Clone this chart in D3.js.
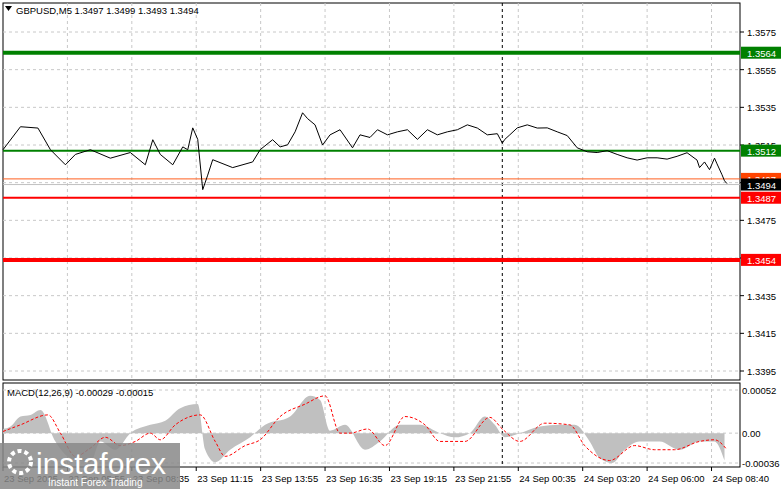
<!DOCTYPE html><html><head><meta charset="utf-8"><script src="https://cdn.jsdelivr.net/npm/d3@7"></script>
<style>body{margin:0;background:#fff}text{font-family:"Liberation Sans",Arial,sans-serif}</style></head><body><svg id="c" width="781" height="489"></svg>
<script>
const barIdx=[0,7,14,19,25,29,35,43,51,57,60,63,68,72,74,76,78,80,82,84,92,100,103,108,111,114,117,120,122,125,128,131,135,140,143,147,150,154,158,162,166,170,174,178,182,186,190,194,198,200,201,203,206,210,214,218,222,226,230,234,238,242,246,250,254,258,262,266,270,274,278,279,281,283,285,286,288,289,290];
const price=[1.35125,1.35247,1.35240,1.35125,1.35045,1.35100,1.35125,1.35080,1.35110,1.35045,1.35178,1.35100,1.35045,1.35140,1.35125,1.35241,1.35180,1.34913,1.34990,1.35072,1.35030,1.35060,1.35125,1.35178,1.35140,1.35151,1.35220,1.35321,1.35290,1.35257,1.35150,1.35204,1.35231,1.35135,1.35204,1.35190,1.35231,1.35204,1.35220,1.35231,1.35180,1.35231,1.35204,1.35220,1.35231,1.35257,1.35240,1.35204,1.35210,1.35160,1.35180,1.35204,1.35241,1.35257,1.35240,1.35241,1.35220,1.35200,1.35135,1.35114,1.35110,1.35120,1.35100,1.35082,1.35070,1.35082,1.35082,1.35075,1.35090,1.35109,1.35070,1.35030,1.35060,1.35019,1.35080,1.35050,1.34992,1.34960,1.34945];
const histIdx=[0,3,7,11,15,21,27,35,39,45,51,59,65,71,78,81,85,91,99,105,115,123,127,131,137,145,151,159,167,175,181,187,193,197,201,207,215,223,229,235,239,244,249,255,263,271,279,285,289];
const hist=[0.00005,0.00008,0.0002,0.00022,0.00028,-0.0001,-0.0003,-0.00035,-0.0001,-0.0002,0,0.0001,0.00015,0.0003,0.00035,-0.0002,-0.00035,-0.0002,-0.00005,0.0001,0.0002,0.00045,0.0004,0.00003,0.0001,-0.0002,-0.0001,0.0001,0.0001,0,-0.00005,0,0.0002,0.0001,-0.00005,0,0.00008,0.0001,0.0001,-0.0001,-0.0003,-0.00036,-0.0002,-0.0001,-0.0001,-0.0002,-0.0001,-0.0001,-0.00033];
const sigIdx=[0,7,18,23,29,35,41,47,53,59,63,69,79,85,89,97,103,111,121,129,135,139,146,153,161,169,175,185,195,200,207,217,227,233,243,253,261,269,279,285,290];
const signal=[0.00002,0.0001,0.00022,0.0,-0.00028,-0.00018,-0.00005,-0.00015,-0.0001,0,-0.00008,0.0001,0.00022,-0.0001,-0.00028,-0.00015,-0.00008,0.0002,0.00035,0.00045,0.0,0.0,0.00005,-0.00015,0.0002,0.0001,-0.0001,-0.0001,0.00019,0.00005,-0.0001,0.00012,0.0001,-0.00015,-0.00033,-0.00015,-0.0002,-0.0002,-0.0001,-0.00008,-0.0002];
const priceTicks=[1.3575,1.3555,1.3535,1.3515,1.3495,1.3475,1.3455,1.3435,1.3415,1.3395];
const timeLabels=["23 Sep 2025","23 Sep 05:55","23 Sep 08:35","23 Sep 11:15","23 Sep 13:55","23 Sep 16:35","23 Sep 19:15","23 Sep 21:55","24 Sep 00:35","24 Sep 03:20","24 Sep 06:00","24 Sep 08:40"];
const levels=[{v:1.3564,c:"#008000",w:4,t:"1.3564"},{v:1.3512,c:"#008000",w:2,t:"1.3512"},{v:1.3497,c:"#ff6020",w:1,t:"1.3497"},{v:1.3487,c:"#ff0000",w:2,t:"1.3487"},{v:1.3454,c:"#ff0000",w:4,t:"1.3454"}];
const macdTicks=[0.00052,0,-0.00036];
const macdTickLabels=["0.00052","0.00","-0.00036"];

const svg=d3.select("#c");
const L=3,R=740,FS=9.5;
const x=d3.scaleLinear().domain([0,290]).range([3,727]);
const y=d3.scaleLinear().domain([1.3395,1.3575]).range([371,32]);
const ym=d3.scaleLinear().domain([-0.00036,0.00052]).range([463,390]);
const tickBars=timeLabels.map((d,i)=>i*25.8);
svg.append("rect").attr("x",L).attr("y",3).attr("width",R-L).attr("height",377).attr("fill","#fff").attr("stroke","#000");
svg.append("rect").attr("x",L).attr("y",383).attr("width",R-L).attr("height",84).attr("fill","#fff").attr("stroke","#000");
const gridC="#c8c8c8";
tickBars.slice(1).forEach(b=>{[[3,380],[383,467]].forEach(([a,bb])=>svg.append("line").attr("x1",x(b)).attr("x2",x(b)).attr("y1",a).attr("y2",bb).attr("stroke",gridC).attr("stroke-dasharray","3,3"));});
priceTicks.forEach(t=>{svg.append("line").attr("x1",L).attr("x2",R).attr("y1",y(t)).attr("y2",y(t)).attr("stroke",gridC).attr("stroke-dasharray","3,3");
 svg.append("line").attr("x1",R).attr("x2",R+4).attr("y1",y(t)).attr("y2",y(t)).attr("stroke","#000");
 svg.append("text").attr("x",R+7).attr("y",y(t)+4).attr("font-size",FS).text(t.toFixed(4));});
macdTicks.forEach((t,i)=>{svg.append("line").attr("x1",L).attr("x2",R).attr("y1",ym(t)).attr("y2",ym(t)).attr("stroke",gridC).attr("stroke-dasharray","3,3");
 svg.append("text").attr("x",R+2).attr("y",ym(t)+4).attr("font-size",FS).text(macdTickLabels[i]);});
[[3,380],[383,467]].forEach(([a,b])=>svg.append("line").attr("x1",x(200)).attr("x2",x(200)).attr("y1",a).attr("y2",b).attr("stroke","#000").attr("stroke-dasharray","3,3"));
levels.forEach(l=>{svg.append("line").attr("x1",L).attr("x2",R).attr("y1",y(l.v)).attr("y2",y(l.v)).attr("stroke",l.c).attr("stroke-width",l.w);});
svg.append("line").attr("x1",L).attr("x2",R).attr("y1",y(1.3494)).attr("y2",y(1.3494)).attr("stroke","#c0c0c0");
svg.append("path").attr("d",d3.line().x((d,i)=>x(barIdx[i])).y(d=>y(d))(price)).attr("fill","none").attr("stroke","#000");
const lab=(v,bg,t,fg)=>{svg.append("rect").attr("x",R+1).attr("y",y(v)-6).attr("width",40).attr("height",12).attr("fill",bg);
 svg.append("text").attr("x",R+7).attr("y",y(v)+4).attr("font-size",FS).attr("fill",fg).text(t);};
levels.forEach(l=>lab(l.v,l.c==="#ff6020"?"#ff4400":l.c,l.t,"#fff"));
lab(1.3494,"#000","1.3494","#fff");
const area=d3.area().x((d,i)=>x(histIdx[i])).y0(ym(0)).y1(d=>ym(d)).curve(d3.curveMonotoneX);
svg.append("path").attr("d",area(hist)).attr("fill","#c0c0c0");
svg.append("path").attr("d",d3.line().x((d,i)=>x(sigIdx[i])).y(d=>ym(d)).curve(d3.curveMonotoneX)(signal)).attr("fill","none").attr("stroke","#ff0000").attr("stroke-dasharray","3,2");
svg.append("text").attr("x",7).attr("y",396).attr("font-size",FS).text("MACD(12,26,9) -0.00029 -0.00015");
svg.append("text").attr("x",16).attr("y",14).attr("font-size",FS).text("GBPUSD,M5  1.3497 1.3499 1.3493 1.3494");
svg.append("path").attr("d","M5,6 L12,6 L8.5,11 Z").attr("fill","#000");
tickBars.forEach((b,i)=>{svg.append("line").attr("x1",x(b)).attr("x2",x(b)).attr("y1",467).attr("y2",471).attr("stroke","#000");
 svg.append("text").attr("x",x(b)+1).attr("y",482).attr("font-size",FS).text(timeLabels[i]);});
svg.append("rect").attr("x",0).attr("y",443).attr("width",180).attr("height",46).attr("fill","#888").attr("opacity",0.85);
svg.append("circle").attr("cx",20).attr("cy",462).attr("r",11).attr("fill","none").attr("stroke","#fff").attr("stroke-width",4).attr("stroke-dasharray","4,3");
svg.append("text").attr("x",36).attr("y",474).attr("font-size",30).attr("fill","#fff").text("instaforex");
svg.append("text").attr("x",48).attr("y",486).attr("font-size",10).attr("fill","#fff").text("Instant Forex Trading");
</script></body></html>
